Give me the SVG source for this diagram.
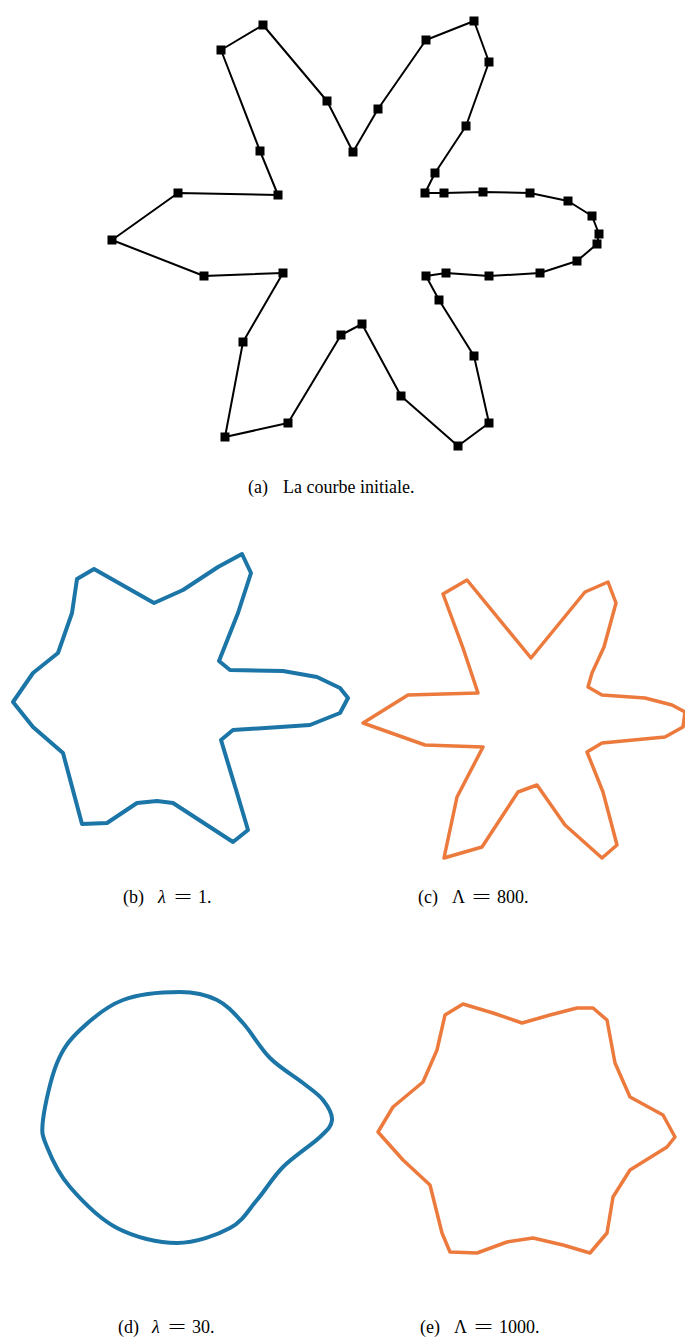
<svg xmlns="http://www.w3.org/2000/svg" width="685" height="1343" viewBox="0 0 685 1343">
<style>
.init{fill:none;stroke:#000;stroke-width:2;stroke-linejoin:round}
.blue{fill:none;stroke:#1b75a6;stroke-width:4;stroke-linejoin:round;stroke-linecap:round}
.orange{fill:none;stroke:#ec7a3d;stroke-width:3.5;stroke-linejoin:round;stroke-linecap:round}
.cap{font-family:"Liberation Serif","Times New Roman",serif;font-size:18px;fill:#000}
.it{font-style:italic}
</style>
<defs>
<marker id="sq" markerWidth="10" markerHeight="10" refX="5" refY="5" markerUnits="userSpaceOnUse">
<rect x="0.5" y="0.5" width="9" height="9" fill="#000"/>
</marker>
</defs>
<rect width="685" height="1343" fill="#fff"/>
<g id="curve-a">
<polygon class="init" marker-start="url(#sq)" marker-mid="url(#sq)" points="112,240 178,193 278,195 260,151 221,50 263,25 327,101 353,152 378,109 426,40 474,21 489,62 466,126 435,173 425,193 444,193 483,192 530,193 568,201 592,216 599,234 597,244 577,261 540,273 489,276 446,273 426,276 439,300 474,356 489,423 458,446 401,396 362,324 341,335 288,423 225,437 243,342 283,273 204,276"/>
</g>
<g id="caption-a" class="cap">
<text x="248" y="493">(a)</text>
<text x="283" y="493">La courbe initiale.</text>
</g>
<g id="curve-b">
<polygon class="blue" points="13,702 33,673 58,653 72,613 77,579 94,569 154,603 183,590 218,567 242,554 251,573 238,613 219,661 230,670 283,671 317,677 340,688 348,698 340,713 310,725 233,730 221,740 237,793 248,830 233,842 173,803 157,801 137,803 107,823 82,824 63,753 33,727"/>
</g>
<g id="curve-c">
<polygon class="orange" points="363,723 408,695 478,693 463,648 443,594 467,580 531,658 585,592 608,582 616,603 604,647 592,673 588,687 602,695 645,698 672,705 685,712 683,727 665,737 602,743 587,752 603,792 617,845 602,858 565,825 537,785 518,792 482,847 444,858 457,797 483,747 425,745"/>
</g>
<g id="caption-b" class="cap">
<text x="123" y="903">(b)</text>
<text x="158" y="903" class="it">λ</text>
<text x="174" y="903" textLength="18" lengthAdjust="spacingAndGlyphs">=</text>
<text x="198" y="903">1.</text>
</g>
<g id="caption-c" class="cap">
<text x="418" y="903">(c)</text>
<text x="452" y="903">Λ</text>
<text x="472" y="903" textLength="19" lengthAdjust="spacingAndGlyphs">=</text>
<text x="497" y="903">800.</text>
</g>
<g id="curve-d">
<path class="blue" d="M43,1120 C44.7,1106 50.8,1078 57,1063 C63.2,1048 69,1040.5 80,1030 C91,1019.5 106.3,1006.3 123,1000 C139.7,993.7 164.3,992 180,992 C195.7,992 206.5,994.8 217,1000 C227.5,1005.2 234.2,1013.3 243,1023 C251.8,1032.7 260,1048 270,1058 C280,1068 294.2,1076 303,1083 C311.8,1090 318.2,1093.8 323,1100 C327.8,1106.2 332.5,1113.8 332,1120 C331.5,1126.2 328.2,1129.2 320,1137 C311.8,1144.8 293.5,1156.5 283,1167 C272.5,1177.5 265.8,1189.8 257,1200 C248.2,1210.2 243.3,1220.8 230,1228 C216.7,1235.2 195.8,1243 177,1243 C158.2,1243 134.8,1237.3 117,1228 C99.2,1218.7 81.7,1200.5 70,1187 C58.3,1173.5 51.5,1158.2 47,1147 C42.5,1135.8 41.3,1134 43,1120 Z"/>
</g>
<g id="curve-e">
<polygon class="orange" points="378,1132 393,1107 423,1082 437,1050 445,1015 463,1004 493,1013 522,1023 550,1015 577,1008 593,1008 607,1020 615,1063 630,1097 663,1115 675,1137 667,1147 630,1170 613,1197 607,1233 590,1253 563,1245 533,1238 507,1242 477,1253 450,1252 442,1233 430,1185 403,1160"/>
</g>
<g id="caption-d" class="cap">
<text x="118" y="1333">(d)</text>
<text x="152" y="1333" class="it">λ</text>
<text x="168" y="1333" textLength="18" lengthAdjust="spacingAndGlyphs">=</text>
<text x="192" y="1333">30.</text>
</g>
<g id="caption-e" class="cap">
<text x="420" y="1333">(e)</text>
<text x="454" y="1333">Λ</text>
<text x="474" y="1333" textLength="19" lengthAdjust="spacingAndGlyphs">=</text>
<text x="499" y="1333">1000.</text>
</g>
</svg>
